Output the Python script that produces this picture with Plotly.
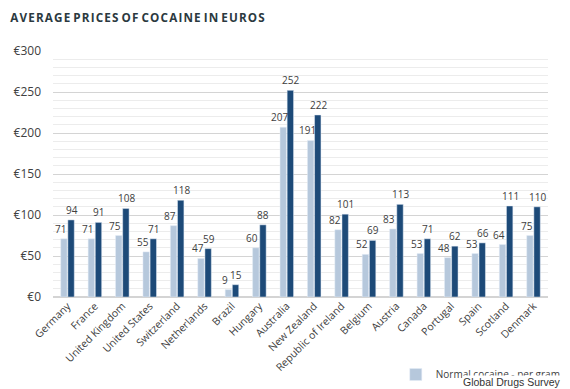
import plotly.graph_objects as go

countries = ["Germany", "France", "United Kingdom", "United States", "Switzerland",
             "Netherlands", "Brazil", "Hungary", "Australia", "New Zealand",
             "Republic of Ireland", "Belgium", "Austria", "Canada", "Portugal",
             "Spain", "Scotland", "Denmark"]
normal = [71, 71, 75, 55, 87, 47, 9, 60, 207, 191, 82, 52, 83, 53, 48, 53, 64, 75]
pure = [94, 91, 108, 71, 118, 59, 15, 88, 252, 222, 101, 69, 113, 71, 62, 66, 111, 110]
yticks = [0, 50, 100, 150, 200, 250, 300]
ytick_labels = ["€" + str(v) for v in yticks]

LIGHT = "#b6c8dc"
DARK = "#1d4a78"
TXT = "#404040"

fig = go.Figure()
fig.add_trace(go.Bar(x=countries, y=normal, name="Normal cocaine - per gram",
                     marker_color=LIGHT, showlegend=True))
fig.add_trace(go.Bar(x=countries, y=pure, name="Pure cocaine - per gram",
                     marker_color=DARK, showlegend=False))

annotations = []
for c, v in zip(countries, normal):
    annotations.append(dict(x=c, y=v, xref="x", yref="y", text=str(v), showarrow=False,
                            xshift=-7, yshift=10, font=dict(size=10, color=TXT,
                                                            family="Open Sans")))
for c, v in zip(countries, pure):
    annotations.append(dict(x=c, y=v, xref="x", yref="y", text=str(v), showarrow=False,
                            xshift=4, yshift=10, font=dict(size=10, color=TXT,
                                                           family="Open Sans")))
annotations.append(dict(x=0.826, y=-0.372, xref="paper", yref="paper",
                        text="Global Drugs Survey", showarrow=False, xanchor="left",
                        yanchor="bottom", bgcolor="white", borderpad=0,
                        font=dict(size=10.5, color="#333333", family="Liberation Sans")))

# page body has an 8px margin, so the figure is sized and placed to compensate
fig.update_layout(
    width=562, height=381,
    margin=dict(l=45, r=22, t=43, b=92, autoexpand=False),
    paper_bgcolor="white", plot_bgcolor="white",
    barmode="group", bargap=0.48, bargroupgap=0.1,
    title=dict(text="<b>A V E R A G E  P R I C E S  O F  C O C A I N E  I N  E U R O S</b>"
               .replace(" ", "\u200a").replace("\u200a\u200a", " "),
               x=0.004, xanchor="left",
               y=0.974, yanchor="middle",
               font=dict(size=11.7, color="#2b3940", family="Open Sans")),
    font=dict(family="Open Sans", color=TXT),
    xaxis=dict(tickangle=-45, tickfont=dict(size=10.5, color=TXT), showgrid=False,
               showline=False, ticks="", automargin=False),
    yaxis=dict(range=[0, 300], tickvals=yticks, ticktext=ytick_labels,
               tickfont=dict(size=12, color=TXT), showgrid=True, gridcolor="#d4d4d4",
               gridwidth=1, zeroline=True, zerolinecolor="#d4d4d4", ticks="",
               minor=dict(dtick=10, showgrid=True, gridcolor="#ececec", gridwidth=1),
               ticklabelstandoff=11, automargin=False),
    legend=dict(orientation="h", xref="container", yref="container",
                x=0.69, y=0.038, xanchor="left", yanchor="middle",
                font=dict(size=10, color=TXT), bgcolor="rgba(0,0,0,0)"),
    annotations=annotations,
)

fig.write_html("out.html")
